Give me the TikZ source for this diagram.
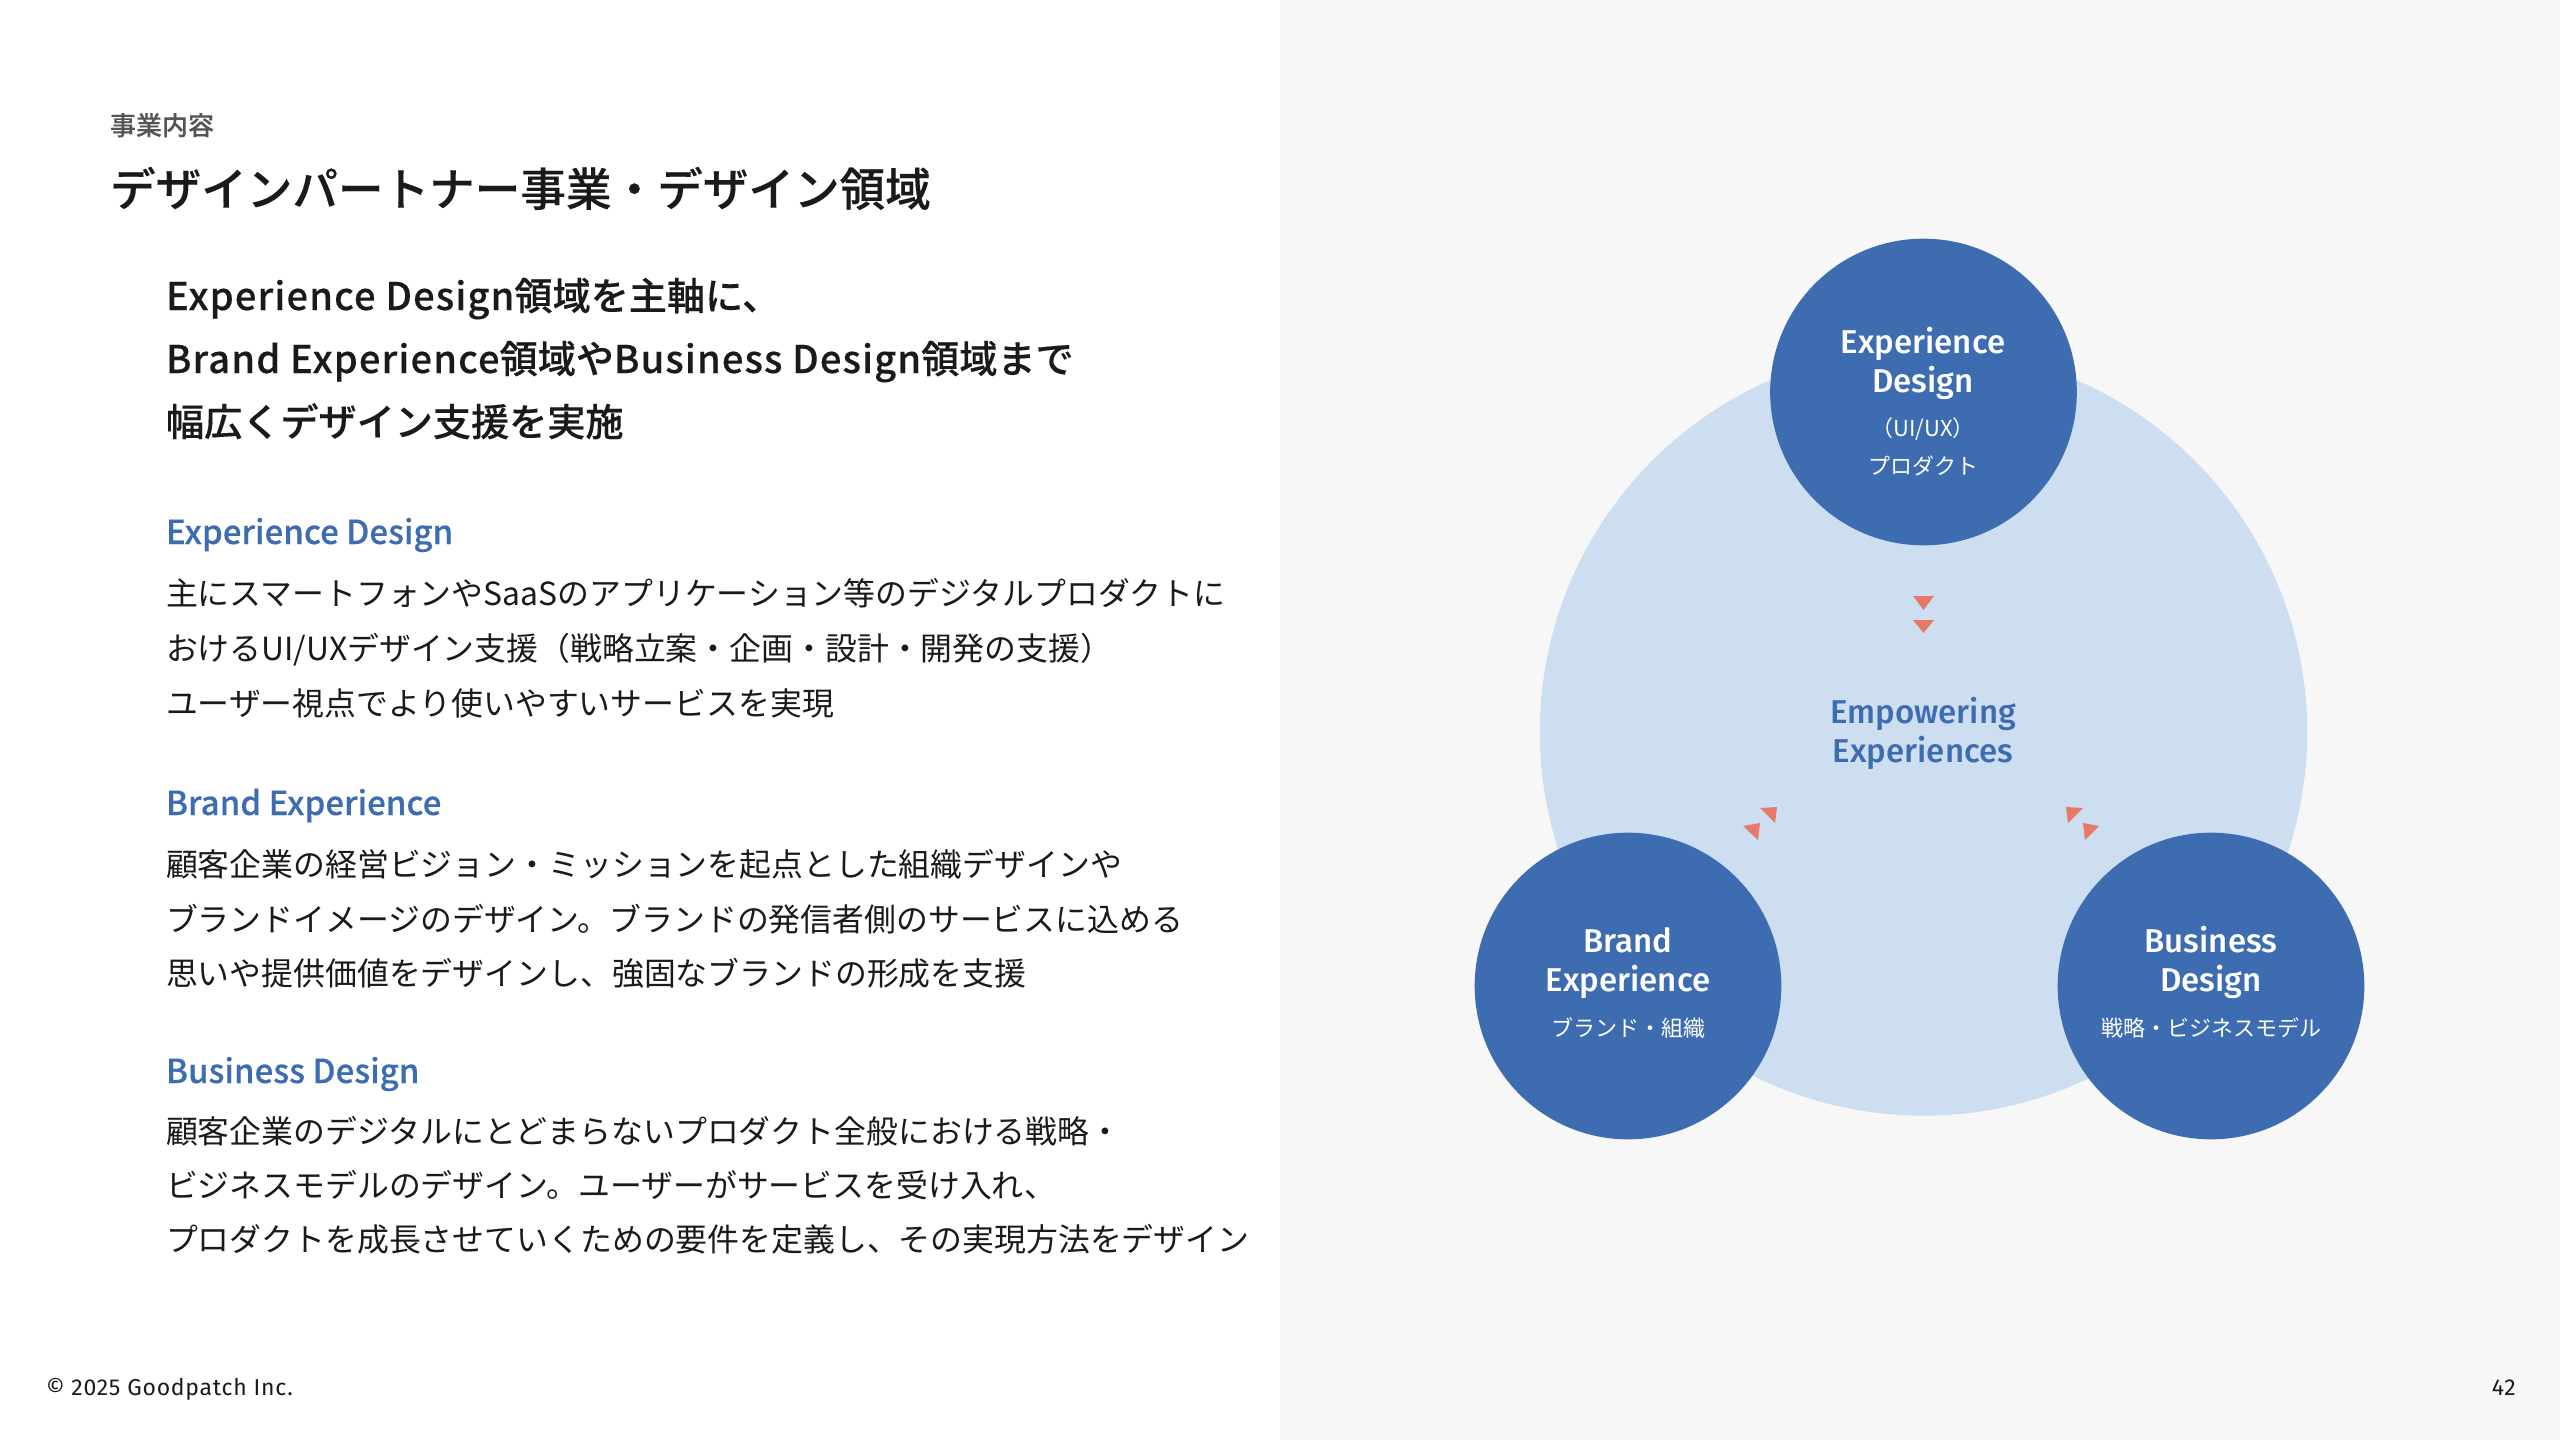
\documentclass[tikz,border=0pt]{standalone}
\usepackage{fontspec}
\setmainfont{Noto Sans CJK JP}
\newfontfamily\medf{Noto Sans CJK JP Medium}[FakeBold=0.2]
\newfontfamily\latwide{Noto Sans CJK JP Medium}[FakeBold=0.2,LetterSpace=3]
\newfontfamily\latinui{Fira Sans Medium}
\newfontfamily\footui{Fira Sans}[LetterSpace=3.2]
\definecolor{panelbg}{HTML}{F7F7F7}
\definecolor{bigc}{HTML}{CDDEF0}
\definecolor{blue}{HTML}{3D6CB0}
\definecolor{tri}{HTML}{E8796A}
\definecolor{ink}{HTML}{1A1A1A}
\definecolor{gr}{HTML}{555555}
\newcommand{\fz}[1]{\fontsize{\dimexpr#1pt*3/4\relax}{\dimexpr#1pt*3/4\relax}\selectfont}
\tikzset{
 x=0.75pt,y=-0.75pt,
 txt/.style={anchor=base west,inner sep=0pt,outer sep=0pt},
 ctr/.style={anchor=base,inner sep=0pt,outer sep=0pt},
 bodyt/.style={txt,font=\fontsize{23.9pt}{23.9pt}\selectfont,text=ink},
 lead/.style={txt,font=\medf\fontsize{28.6pt}{28.6pt}\selectfont,text=ink},
 sub/.style={txt,font=\medf\fontsize{24.8pt}{24.8pt}\selectfont,text=blue},
 hub/.style={circle,fill=blue,draw=none,minimum size=230pt,inner sep=0pt},
 ct/.style={ctr,font=\latinui\fz{33},text=white},
 cs/.style={ctr,font=\fz{22},text=white},
 mid/.style={ctr,font=\latinui\fz{33},text=blue},
 tr/.style={fill=tri,draw=none},
}
\begin{document}
\begin{tikzpicture}
\useasboundingbox (0,0) rectangle (2560,1440);
\fill[white] (0,0) rectangle (2560,1440);
\fill[panelbg] (1280,0) rectangle (2560,1440);
\node[circle,fill=bigc,minimum size=575.5pt,inner sep=0pt] (big) at (1923.5,732) {};
\node[hub] (exp) at (1923.5,392) {};
\node[hub] (brand) at (1628,986) {};
\node[hub] (biz) at (2211,986) {};
\fill[tr] (1913,596) -- (1934,596) -- (1923.5,610) -- cycle;
\fill[tr] (1913,620) -- (1934,620) -- (1923.5,633) -- cycle;
\fill[tr] (1760,808) -- (1777,807) -- (1775,823) -- cycle;
\fill[tr] (1743,826) -- (1760,823) -- (1758,840) -- cycle;
\fill[tr] (2066,807) -- (2083,808) -- (2068,823) -- cycle;
\fill[tr] (2083,823) -- (2099,826) -- (2085,840) -- cycle;
\node[ct] (e1) at (1923,353) {Experience};
\node[ct] (e2) at (1923,392) {Design};
\node[cs] (e3) at (1923,436) {（UI/UX）};
\node[cs] (e4) at (1923,474) {プロダクト};
\node[ct] (b1) at (1628,952) {Brand};
\node[ct] (b2) at (1628,991) {Experience};
\node[cs] (b3) at (1628,1036) {ブランド・組織};
\node[ct] (d1) at (2211,952) {Business};
\node[ct] (d2) at (2211,991) {Design};
\node[cs] (d3) at (2211,1036) {戦略・ビジネスモデル};
\node[mid] (m1) at (1923,723) {Empowering};
\node[mid] (m2) at (1923,762) {Experiences};
\node[txt,font=\medf\fz{26},text=gr] (kick) at (110,135) {事業内容};
\node[txt,font=\medf\fontsize{34.2pt}{34.2pt}\selectfont,text=ink] (title) at (110,206) {デザインパートナー事業・デザイン領域};
\node[lead] (l1) at (166,310) {{\latwide Experience Design}領域を主軸に、};
\node[lead] (l2) at (166,373) {{\latwide Brand Experience}領域や{\latwide Business Design}領域まで};
\node[lead] (l3) at (166,436) {幅広くデザイン支援を実施};
\node[sub] (s1) at (166,544) {Experience Design};
\node[bodyt] (t11) at (166,605) {主にスマートフォンやSaaSのアプリケーション等のデジタルプロダクトに};
\node[bodyt] (t12) at (166,660) {おけるUI/UXデザイン支援（戦略立案・企画・設計・開発の支援）};
\node[bodyt] (t13) at (166,715) {ユーザー視点でより使いやすいサービスを実現};
\node[sub] (s2) at (166,815) {Brand Experience};
\node[bodyt] (t21) at (166,876) {顧客企業の経営ビジョン・ミッションを起点とした組織デザインや};
\node[bodyt] (t22) at (166,931) {ブランドイメージのデザイン。ブランドの発信者側のサービスに込める};
\node[bodyt] (t23) at (166,985) {思いや提供価値をデザインし、強固なブランドの形成を支援};
\node[sub] (s3) at (166,1083) {Business Design};
\node[bodyt] (t31) at (166,1143) {顧客企業のデジタルにとどまらないプロダクト全般における戦略・};
\node[bodyt] (t32) at (166,1197) {ビジネスモデルのデザイン。ユーザーがサービスを受け入れ、};
\node[bodyt] (t33) at (166,1251) {プロダクトを成長させていくための要件を定義し、その実現方法をデザイン};
\node[txt,font=\footui\fz{23},text=ink] (foot) at (46,1395) {© 2025 Goodpatch Inc.};
\node[anchor=base east,inner sep=0pt,font=\footui\fz{23},text=ink] (pg) at (2516,1395) {42};
\end{tikzpicture}
\end{document}
